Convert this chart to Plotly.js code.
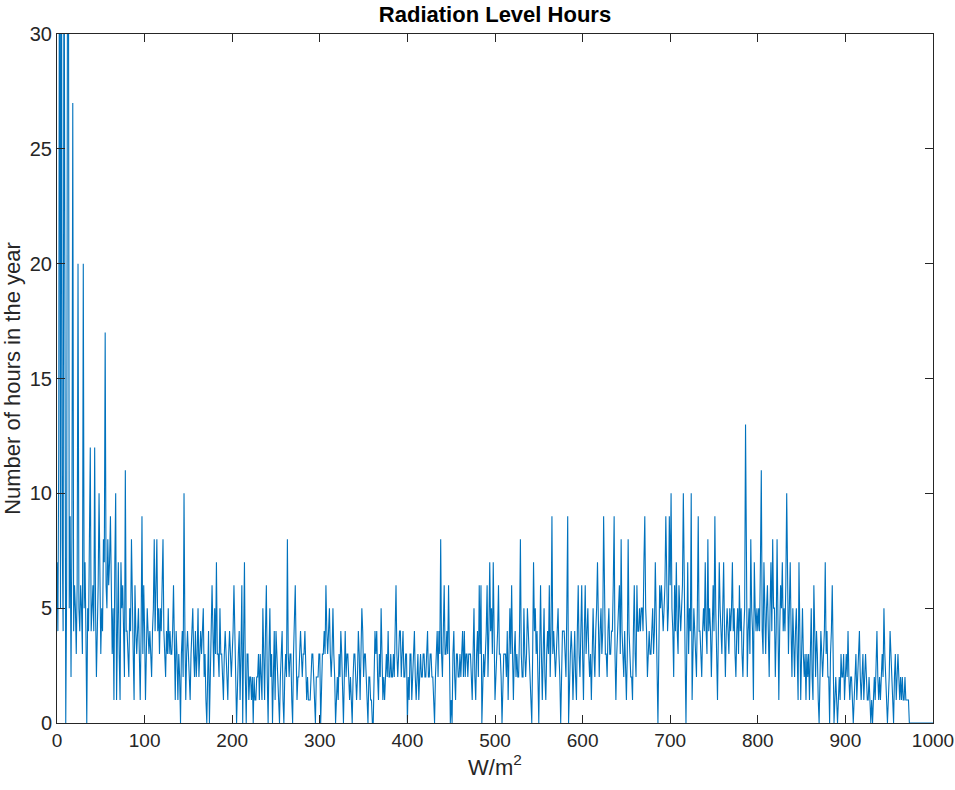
<!DOCTYPE html>
<html>
<head>
<meta charset="utf-8">
<script src="https://cdn.plot.ly/plotly-3.0.1.min.js"></script>
<style>html,body{margin:0;padding:0;background:#fff;}#chart{width:955px;height:790px;}</style>
</head>
<body>
<div id="chart"></div>
<script>
// Number of hours in the year at each radiation level (W/m^2), starting at 0, step 1
const hours = [
7,4,12,45,5,40,8,4,38,10,
0,6,34,36,5,9,2,8,27,4,
6,5,3,6,20,5,4,6,5,3,
20,5,7,4,0,5,4,8,12,4,
5,6,4,12,5,2,4,6,10,5,
3,5,4,8,7,17,6,5,8,6,
7,9,4,3,5,1,7,10,1,4,
7,3,1,7,5,6,3,2,11,4,
4,3,2,5,4,8,4,3,1,6,
4,3,4,5,3,1,4,9,3,6,
4,1,3,5,4,3,4,3,2,4,
5,8,4,6,8,4,5,3,5,4,
6,8,4,3,2,4,3,5,3,4,
3,3,4,6,3,1,4,3,1,3,
2,0,3,4,2,10,4,1,3,4,
3,2,1,3,4,5,3,2,4,2,
3,5,2,3,4,3,4,5,2,3,
1,0,2,4,0,3,4,6,3,2,
5,3,7,3,3,2,5,3,3,2,
1,3,4,3,2,1,3,4,3,2,
3,4,6,3,2,0,2,3,4,1,
3,6,0,3,7,2,0,3,3,1,
2,2,1,2,0,2,1,1,2,2,
3,1,3,2,1,5,3,1,4,6,
2,0,3,5,2,3,0,2,4,1,
4,3,2,1,0,2,3,4,1,0,
2,3,2,8,3,2,3,3,1,0,
3,5,6,3,1,2,2,3,4,3,
2,3,3,4,2,1,2,1,1,1,
2,3,3,2,1,0,2,2,2,3,
3,0,2,3,3,4,3,6,4,3,
4,5,3,2,3,5,3,2,0,1,
2,1,3,2,4,3,1,0,2,4,
2,3,3,2,1,2,1,0,2,3,
3,2,1,2,4,3,1,3,5,4,
2,3,3,2,1,0,2,2,1,1,
0,0,2,4,3,4,2,1,3,2,
5,3,1,2,1,2,3,2,4,2,
2,3,2,2,3,2,4,6,3,2,
3,4,4,2,3,4,2,2,3,3,
0,2,1,3,3,1,2,3,4,2,
1,2,3,1,2,3,2,2,3,3,
2,2,3,4,2,2,3,3,2,2,
1,0,2,3,4,2,4,3,8,3,
2,4,6,3,3,4,3,6,2,0,
1,0,3,4,2,1,3,3,2,2,
3,2,3,4,2,4,2,3,3,2,
3,3,3,2,1,3,5,2,1,3,
4,2,6,3,6,0,2,3,2,3,
4,6,2,4,7,4,5,3,7,4,
1,2,3,4,6,3,3,2,0,2,
3,3,3,2,4,1,3,5,3,6,
3,1,3,4,2,3,2,2,4,8,
3,2,2,5,3,2,3,5,4,3,
2,1,0,3,7,4,5,3,4,2,
0,3,6,3,1,3,5,2,1,3,
4,3,6,2,4,9,3,4,3,2,
3,4,5,3,2,0,2,4,4,4,
3,2,5,9,0,2,3,4,3,1,
3,4,2,1,4,6,3,2,4,6,
3,1,4,6,3,4,5,3,2,3,
1,3,5,3,2,4,5,7,3,2,
4,5,3,4,9,4,3,3,2,4,
5,3,3,4,4,6,9,3,1,3,
4,5,6,3,8,4,3,2,4,2,
1,3,8,4,3,2,2,1,4,6,
3,2,6,4,4,5,4,5,5,4,
7,9,5,4,2,3,4,3,3,4,
5,3,4,7,4,3,0,3,6,5,
6,5,4,5,6,9,5,4,5,9,
6,10,5,4,2,6,4,7,4,3,
6,5,4,5,6,10,5,3,0,4,
7,3,5,4,10,1,4,5,4,3,
2,5,9,4,4,3,2,4,5,4,
7,4,3,8,4,5,4,2,4,6,
4,9,5,3,1,4,7,5,4,3,
5,7,4,2,4,5,4,3,5,4,
5,7,4,5,3,2,4,5,3,6,
4,5,3,2,4,5,13,4,2,4,
5,3,8,5,4,1,7,5,4,5,
4,5,4,7,11,4,3,7,5,3,
5,6,4,2,5,7,4,8,5,5,
2,4,8,4,1,4,6,5,7,4,
5,4,6,10,4,3,5,7,4,2,
5,3,2,4,5,3,1,7,3,1,
3,5,3,2,3,1,3,2,3,1,
3,5,2,1,6,3,2,4,3,1,
0,2,4,3,2,3,4,7,3,4,
2,2,0,3,4,6,2,0,1,2,
1,0,1,2,1,3,2,2,3,1,
2,3,2,4,2,1,2,2,1,0,
1,2,3,1,2,3,4,2,1,2,
3,1,2,3,2,1,1,2,1,0,
1,0,1,2,1,3,4,2,1,2,
1,2,3,2,5,3,2,1,0,1,
2,4,3,2,1,0,2,3,1,2,
3,2,1,2,1,2,1,1,2,1,
1,1,1,0,0,0,0,0,0,0,
0,0,0,0,0,0,0,0,0,0,
0,0,0,0,0,0,0,0,0,0,
0
];
const xTicks = [0,100,200,300,400,500,600,700,800,900,1000];
const yTicks = [0,5,10,15,20,25,30];
const chartTitle = 'Radiation Level Hours';
const xLabel = 'W/m<sup>2</sup>';
const yLabel = 'Number of hours in the year';

const trace = {
  type: 'scatter',
  mode: 'lines',
  y: hours,
  x0: 0,
  dx: 1,
  line: {color: '#0072BD', width: 1.1},
  hoverinfo: 'x+y'
};

const fam = 'Liberation Sans, Arial, sans-serif';
const axisFont = {family: fam, size: 19, color: '#262626'};

const layout = {
  width: 955,
  height: 790,
  paper_bgcolor: '#ffffff',
  plot_bgcolor: '#ffffff',
  margin: {l: 57, r: 22, t: 34, b: 67},
  showlegend: false,
  title: {
    text: '<b>' + chartTitle + '</b>',
    font: {family: fam, size: 22, color: '#000000'},
    x: 0.5, xref: 'paper', xanchor: 'center',
    y: 1, yref: 'container', yanchor: 'top', pad: {t: 7}
  },
  xaxis: {
    range: [0, 1000],
    tickvals: xTicks,
    ticktext: xTicks.map(String),
    ticks: 'inside', ticklen: 8, tickwidth: 1, tickcolor: '#262626',
    showline: true, linecolor: '#262626', linewidth: 1, mirror: 'allticks',
    showgrid: false, zeroline: false,
    tickfont: axisFont,
    title: {text: xLabel, font: {family: fam, size: 22, color: '#262626'}, standoff: 9}
  },
  yaxis: {
    range: [0, 30],
    tickvals: yTicks,
    ticktext: yTicks.map(String),
    ticks: 'inside', ticklen: 8, tickwidth: 1, tickcolor: '#262626',
    showline: true, linecolor: '#262626', linewidth: 1, mirror: 'allticks',
    showgrid: false, zeroline: false,
    tickfont: {family: fam, size: 20, color: '#262626'},
    title: {text: yLabel, font: {family: fam, size: 22, color: '#262626'}, standoff: 4}
  }
};

Plotly.newPlot('chart', [trace], layout, {staticPlot: true, displayModeBar: false});
</script>
</body>
</html>
